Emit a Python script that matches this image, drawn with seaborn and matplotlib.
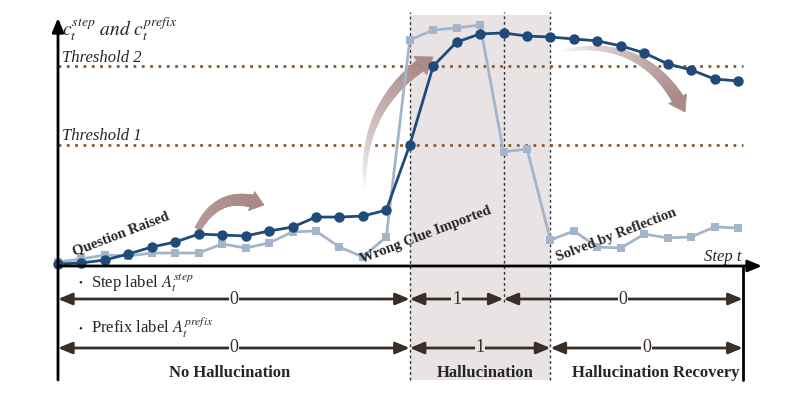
import numpy as np
import matplotlib
matplotlib.use("Agg")
import matplotlib.pyplot as plt
from matplotlib.patches import FancyArrowPatch, Rectangle
from matplotlib.collections import PolyCollection
from matplotlib.colors import to_rgb
import seaborn as sns

sns.set_style("white")
plt.rcParams["font.family"] = ["Liberation Serif", "DejaVu Serif"]
plt.rcParams["mathtext.fontset"] = "stix"

# data
steps = np.arange(30)
c_step = [0.008, 0.013, 0.025, 0.05, 0.079, 0.10, 0.133, 0.129, 0.125, 0.146,
          0.162, 0.204, 0.204, 0.208, 0.233, 0.504, 0.833, 0.933, 0.967, 0.971,
          0.958, 0.954, 0.946, 0.938, 0.917, 0.888, 0.842, 0.817, 0.779, 0.771]
c_prefix = [0.017, 0.029, 0.046, 0.042, 0.054, 0.054, 0.054, 0.092, 0.075, 0.096,
            0.142, 0.146, 0.079, 0.038, 0.121, 0.942, 0.983, 0.992, 1.004, 0.475,
            0.488, 0.108, 0.146, 0.079, 0.075, 0.133, 0.117, 0.121, 0.163, 0.158]
threshold_1 = 0.504
threshold_2 = 0.833
step_label_bounds = [0, 15, 19, 29.2]
step_label_values = ["0", "1", "0"]
prefix_label_bounds = [0, 15, 21, 29.2]
prefix_label_values = ["0", "1", "0"]
phase_names = ["No Hallucination", "Hallucination", "Hallucination Recovery"]

DARK = "#1F4A7A"
LIGHT = "#A3B5CA"
BROWN = "#8B5A2B"
SHADE = "#E9E3E3"
ARROW = "#AA8A89"
LABEL = "#3A2E28"

H = 397

# pixel -> data helpers (only for placing decorations)
def px_x(p):
    return (p - 58) / 23.45

def px_y(p):
    return (266 - p) / 240


def curved_arrow(ax, p0, p1, rad, w0, w1, head_w, head_l, f0):
    # tapered curved arrow, drawn in pixel space then mapped to data
    P0 = np.array([p0[0], H - p0[1]], float)
    P1 = np.array([p1[0], H - p1[1]], float)
    d = P1 - P0
    C = (P0 + P1) / 2 + rad * np.array([d[1], -d[0]])
    t = np.linspace(0, 1, 300)[:, None]
    B = (1 - t) ** 2 * P0 + 2 * (1 - t) * t * C + t ** 2 * P1
    s = np.concatenate([[0], np.cumsum(np.hypot(*np.diff(B, axis=0).T))])
    keep = s <= s[-1] - head_l
    Bb, sb = B[keep], s[keep] / s[keep][-1]
    tan = np.gradient(Bb, axis=0)
    tan /= np.hypot(tan[:, 0], tan[:, 1])[:, None]
    nrm = np.column_stack([-tan[:, 1], tan[:, 0]])
    w = (w0 + (w1 - w0) * sb)[:, None]
    left, right = Bb + nrm * w / 2, Bb - nrm * w / 2
    base_rgb = np.array(to_rgb(ARROW))
    polys, cols = [], []
    for i in range(len(Bb) - 1):
        polys.append([left[i], left[i + 1], right[i + 1], right[i]])
        f = f0 + (1 - f0) * sb[i] ** 0.8
        cols.append(1 - f * (1 - base_rgb))
    hd = P1 - Bb[-1]
    hd /= np.hypot(*hd)
    hn = np.array([-hd[1], hd[0]])
    polys.append([Bb[-1] + hn * head_w / 2, P1, Bb[-1] - hn * head_w / 2])
    cols.append(base_rgb)
    polys = [[(px_x(x), px_y(H - y)) for x, y in poly] for poly in polys]
    ax.add_collection(PolyCollection(polys, facecolors=cols, edgecolors=cols, linewidths=0.6, zorder=2))


fig = plt.figure(figsize=(7.93, 3.97), dpi=100)
ax = fig.add_axes([0, 0, 1, 1])
ax.set_xlim(px_x(0), px_x(793))
ax.set_ylim(px_y(397), px_y(0))
ax.axis("off")

# hallucination zone
hal_start, hal_end = prefix_label_bounds[1], prefix_label_bounds[2]
ax.add_patch(Rectangle((hal_start, px_y(380)), hal_end - hal_start, px_y(15) - px_y(380),
                       fc=SHADE, ec="none", zorder=0))
for s in [hal_start, hal_end]:
    ax.plot([s, s], [px_y(380), px_y(12)], color="#333333", lw=1, ls=(0, (2, 2)), zorder=1)
ax.plot([step_label_bounds[2]] * 2, [px_y(302), px_y(12)], color="#333333", lw=1, ls=(0, (2, 2)), zorder=1)

# thresholds
ax.hlines([threshold_1, threshold_2], 0, step_label_bounds[-1], colors=BROWN, lw=2,
          linestyles=(0, (1, 2)), zorder=1)
ax.text(px_x(62), threshold_2 + 0.015, "Threshold 2", style="italic", fontsize=12, va="baseline")
ax.text(px_x(62), threshold_1 + 0.02, "Threshold 1", style="italic", fontsize=12, va="baseline")

# axes
ax.annotate("", xy=(px_x(762), 0), xytext=(0, 0),
            arrowprops=dict(arrowstyle="-|>,head_length=0.6,head_width=0.25", lw=2, color="black",
                            mutation_scale=14, shrinkA=0, shrinkB=0), zorder=5)
ax.annotate("", xy=(0, px_y(18)), xytext=(0, px_y(380)),
            arrowprops=dict(arrowstyle="-|>,head_length=0.6,head_width=0.25", lw=2, color="black",
                            mutation_scale=14, shrinkA=0, shrinkB=0), zorder=5)
ax.plot([step_label_bounds[-1]] * 2, [0, px_y(380)], color="black", lw=2, zorder=5)
ax.text(px_x(62), px_y(36), r"$c_t^{step}\ and\ c_t^{prefix}$", fontsize=14, va="baseline")
ax.text(px_x(741), px_y(261), "Step t", style="italic", fontsize=12, ha="right", va="baseline")

# curves
sns.lineplot(x=steps, y=c_prefix, ax=ax, color=LIGHT, lw=2, marker="s", markersize=6,
             markeredgewidth=0, zorder=3)
sns.lineplot(x=steps, y=c_step, ax=ax, color=DARK, lw=2, marker="o", markersize=7.5,
             markeredgewidth=0, zorder=4)

# curved trend arrows
curved_arrow(ax, (198, 229), (264, 205), -0.45, 6, 12, 20, 13, 0.85)
curved_arrow(ax, (365, 190), (433, 57), -0.3, 1.5, 12, 22, 15, 0.0)
curved_arrow(ax, (562, 51), (685, 112), -0.38, 1, 12, 20, 15, 0.05)

# event annotations
for txt, (x, y) in [("Question Raised", (121, 234)),
                    ("Wrong Clue Imported", (426, 235)),
                    ("Solved by Reflection", (616, 235))]:
    ax.text(px_x(x), px_y(y), txt, fontsize=10.5, fontweight="bold", rotation=21,
            rotation_mode="anchor", ha="center", va="center", zorder=6)

# label rows
ax.text(px_x(80), px_y(283), "\u2022", fontsize=8, ha="center", va="center")
ax.text(px_x(91), px_y(287), r"Step label $A_t^{step}$", fontsize=12, va="baseline")
ax.text(px_x(80), px_y(329), "\u2022", fontsize=8, ha="center", va="center")
ax.text(px_x(91), px_y(333), r"Prefix label $A_t^{prefix}$", fontsize=12, va="baseline")

for bounds, values, row in [(step_label_bounds, step_label_values, 299),
                            (prefix_label_bounds, prefix_label_values, 348)]:
    for i, v in enumerate(values):
        a, b = bounds[i], bounds[i + 1]
        ax.add_patch(FancyArrowPatch((a, px_y(row)), (b, px_y(row)),
                                     arrowstyle="<|-|>,head_length=0.6,head_width=0.25",
                                     mutation_scale=14, lw=2, color=LABEL,
                                     shrinkA=0, shrinkB=0, zorder=3))
        bg = SHADE if (a >= hal_start and b <= hal_end) else "white"
        ax.text((a + b) / 2, px_y(row), v, fontsize=13, ha="center", va="center", color=LABEL,
                bbox=dict(fc=bg, ec="none", pad=0.5), zorder=4)

for name, cx in zip(phase_names, [230, 485, 656]):
    ax.text(px_x(cx), px_y(373), name, fontsize=12, fontweight="bold", ha="center", va="center")

fig.savefig("out.png", dpi=100)
